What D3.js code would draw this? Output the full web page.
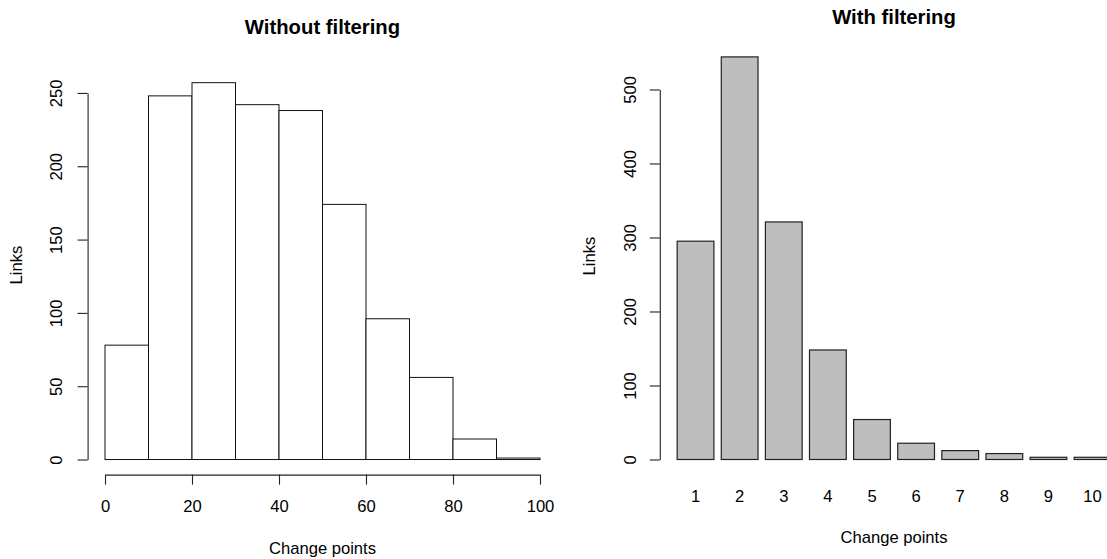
<!DOCTYPE html>
<html>
<head>
<meta charset="utf-8">
<script src="https://cdn.jsdelivr.net/npm/d3@7"></script>
<style>
    body { margin: 0; background: #fff; }
    text { font-family: "Liberation Sans", Arial, sans-serif; fill: #000; }
</style>
</head>
<body>
<div id="chart"></div>
<script>
// Left histogram: bin edges and counts
const histBreaks = [0, 10, 20, 30, 40, 50, 60, 70, 80, 90, 100];
const histCounts = [78, 248, 257, 242, 238, 174, 96, 56, 14, 1];
const histXTicks = [0, 20, 40, 60, 80, 100];
const histYTicks = [0, 50, 100, 150, 200, 250];

// Right bar chart: change point counts
const barNames = ['1', '2', '3', '4', '5', '6', '7', '8', '9', '10'];
const barCounts = [295, 544, 321, 148, 54, 22, 12, 8, 3, 3];
const barYTicks = [0, 100, 200, 300, 400, 500];

const width = 1107, height = 559;
const fontSize = 16.6;
const titleSize = 20.3;

const svg = d3.select('#chart')
    .append('svg')
    .attr('width', width)
    .attr('height', height);

// ---------- Left: Without filtering ----------
const lx = d3.scaleLinear().domain([-4, 104]).range([87.6, 557.4]);
const ly = d3.scaleLinear().domain([-10.28, 267.28]).range([474.6, 67.6]);

const left = svg.append('g');

left.append('g')
    .selectAll('rect')
    .data(histCounts)
    .enter()
    .append('rect')
    .attr('x', (d, i) => lx(histBreaks[i]))
    .attr('width', (d, i) => lx(histBreaks[i + 1]) - lx(histBreaks[i]))
    .attr('y', d => ly(d))
    .attr('height', d => ly(0) - ly(d))
    .attr('fill', '#fff')
    .attr('stroke', '#111')
    .attr('stroke-width', 1);

// x axis (line spans first to last tick, as in R)
const lxAxisScale = d3.scaleLinear().domain([0, 100]).range([lx(0), lx(100)]);
const lxAxis = left.append('g')
    .attr('transform', `translate(0,${ly.range()[0]})`)
    .call(d3.axisBottom(lxAxisScale).tickValues(histXTicks).tickSize(10).tickSizeOuter(0).tickPadding(0));
lxAxis.selectAll('text')
    .attr('y', 32)
    .attr('dy', '0.35em')
    .style('font-size', fontSize + 'px');

const lyAxisScale = d3.scaleLinear().domain([0, 250]).range([ly(0), ly(250)]);
const lyAxis = left.append('g')
    .attr('transform', `translate(${lx.range()[0]},0)`)
    .call(d3.axisLeft(lyAxisScale).tickValues(histYTicks).tickSize(10).tickSizeOuter(0));
lyAxis.selectAll('text')
    .attr('x', null)
    .attr('dy', '0.35em')
    .attr('text-anchor', 'middle')
    .attr('transform', 'translate(-31,0) rotate(-90)')
    .style('font-size', fontSize + 'px');

left.append('text')
    .attr('x', (lx.range()[0] + lx.range()[1]) / 2)
    .attr('y', 27)
    .attr('dy', '0.35em')
    .attr('text-anchor', 'middle')
    .style('font-size', titleSize + 'px')
    .style('font-weight', 'bold')
    .text('Without filtering');

left.append('text')
    .attr('x', (lx.range()[0] + lx.range()[1]) / 2)
    .attr('y', 548)
    .attr('dy', '0.35em')
    .attr('text-anchor', 'middle')
    .style('font-size', fontSize + 'px')
    .text('Change points');

left.append('text')
    .attr('transform', 'translate(16.5,265) rotate(-90)')
    .attr('dy', '0.35em')
    .attr('text-anchor', 'middle')
    .style('font-size', fontSize + 'px')
    .text('Links');

// ---------- Right: With filtering ----------
const rx = d3.scaleLinear().domain([-0.272, 12.472]).range([659.8, 1128.3]);
const ry = d3.scaleLinear().domain([-21.76, 565.76]).range([475.6, 40.8]);
const band = d3.scaleBand()
    .domain(barNames)
    .range([rx(0.1), rx(12.1)])
    .paddingInner(1 / 6)
    .paddingOuter(1 / 12);

const right = svg.append('g');

right.append('g')
    .selectAll('rect')
    .data(barCounts)
    .enter()
    .append('rect')
    .attr('x', (d, i) => band(barNames[i]))
    .attr('width', band.bandwidth())
    .attr('y', d => ry(d))
    .attr('height', d => ry(0) - ry(d))
    .attr('fill', '#bebebe')
    .attr('stroke', '#222')
    .attr('stroke-width', 1.2);

right.append('g')
    .selectAll('text')
    .data(barNames)
    .enter()
    .append('text')
    .attr('x', d => band(d) + band.bandwidth() / 2)
    .attr('y', 496)
    .attr('dy', '0.35em')
    .attr('text-anchor', 'middle')
    .style('font-size', fontSize + 'px')
    .text(d => d);

const ryAxisScale = d3.scaleLinear().domain([0, 500]).range([ry(0), ry(500)]);
const ryAxis = right.append('g')
    .attr('transform', `translate(${rx.range()[0]},0)`)
    .call(d3.axisLeft(ryAxisScale).tickValues(barYTicks).tickSize(10).tickSizeOuter(0));
ryAxis.selectAll('text')
    .attr('x', null)
    .attr('dy', '0.35em')
    .attr('text-anchor', 'middle')
    .attr('transform', 'translate(-30,0) rotate(-90)')
    .style('font-size', fontSize + 'px');

right.append('text')
    .attr('x', 894)
    .attr('y', 17)
    .attr('dy', '0.35em')
    .attr('text-anchor', 'middle')
    .style('font-size', titleSize + 'px')
    .style('font-weight', 'bold')
    .text('With filtering');

right.append('text')
    .attr('x', 894)
    .attr('y', 537)
    .attr('dy', '0.35em')
    .attr('text-anchor', 'middle')
    .style('font-size', fontSize + 'px')
    .text('Change points');

right.append('text')
    .attr('transform', 'translate(589,256) rotate(-90)')
    .attr('dy', '0.35em')
    .attr('text-anchor', 'middle')
    .style('font-size', fontSize + 'px')
    .text('Links');

// axis styling
svg.selectAll('.domain, .tick line')
    .attr('stroke', '#222')
    .attr('stroke-width', 1.1);
svg.selectAll('.tick text').attr('fill', '#000');
</script>
</body>
</html>
